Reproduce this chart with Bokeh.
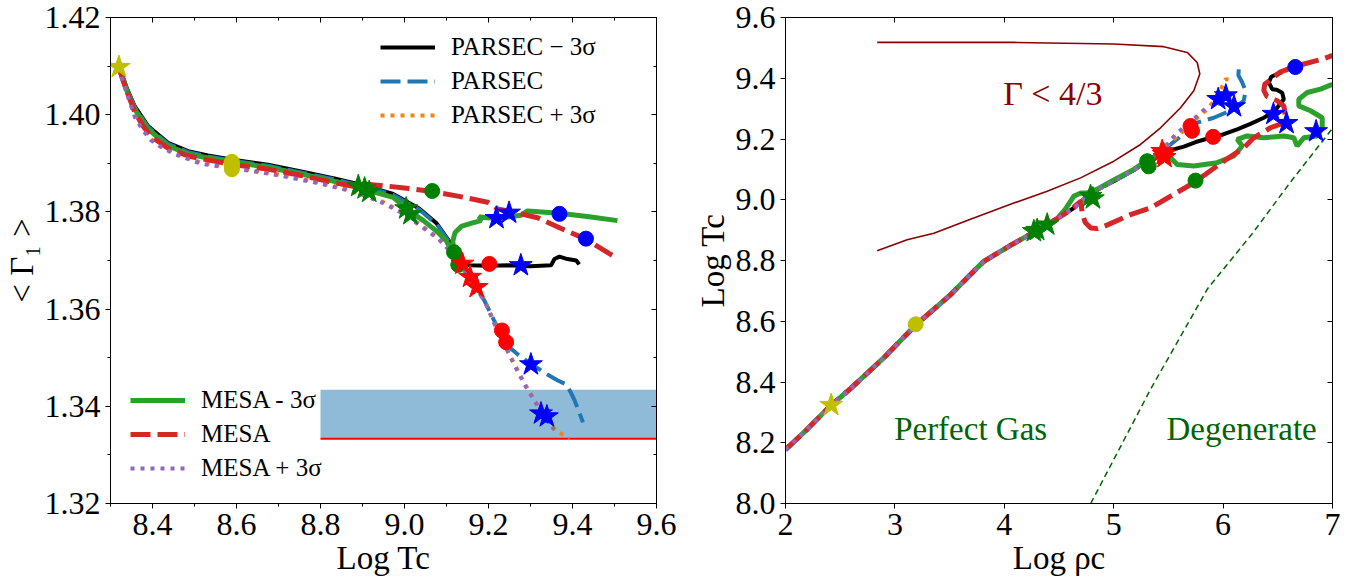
from bokeh.plotting import figure
from bokeh.models import (FixedTicker, LinearAxis, Label, Legend, LegendItem, CustomJSTickFormatter)
from bokeh.layouts import row
from bokeh.embed import file_html
from bokeh.resources import INLINE

SERIF = "Liberation Serif"
C_BLACK, C_BLUE, C_ORANGE = "black", "#1f77b4", "#ff7f0e"
C_GREEN, C_RED, C_PURPLE = "#2ca02c", "#d62728", "#9467bd"
M_Y, M_G, M_R, M_B = "#bfbf00", "#008000", "#ff0000", "#0000ff"

# ---------------- left panel data: <Gamma_1> vs Log Tc ----------------
lp_xticks = [8.4, 8.6, 8.8, 9.0, 9.2, 9.4, 9.6]
lp_xminor = [8.3, 8.4, 8.5, 8.6, 8.7, 8.8, 8.9, 9.0, 9.1, 9.2, 9.3, 9.4, 9.5, 9.6]
lp_yticks = [1.32, 1.34, 1.36, 1.38, 1.40, 1.42]
lp_yminor = [1.32, 1.33, 1.34, 1.35, 1.36, 1.37, 1.38, 1.39, 1.40, 1.41, 1.42]

pm3_T = [8.320, 8.326, 8.340, 8.358, 8.390, 8.437, 8.485, 8.532, 8.595, 8.675, 8.754, 8.833, 8.881, 8.930,
         8.973, 9.035, 9.077, 9.108, 9.128, 9.140, 9.154, 9.200, 9.250, 9.300, 9.349, 9.357, 9.369, 9.388,
         9.409, 9.416]
pm3_G = [1.4098, 1.4086, 1.4052, 1.4017, 1.3976, 1.3942, 1.3925, 1.3916, 1.3907, 1.3897, 1.3883, 1.3869,
         1.3859, 1.3848, 1.3837, 1.3807, 1.3776, 1.3738, 1.3715, 1.3697, 1.3690, 1.3689, 1.3690, 1.3688,
         1.3690, 1.3703, 1.3708, 1.3703, 1.3700, 1.3692]

p0_T = [8.320, 8.326, 8.340, 8.358, 8.390, 8.437, 8.485, 8.532, 8.595, 8.675, 8.754, 8.833, 8.881, 8.930,
        8.973, 9.035, 9.077, 9.108, 9.128, 9.140, 9.160, 9.190, 9.214, 9.245, 9.278, 9.301, 9.335, 9.365,
        9.385, 9.395, 9.405, 9.415, 9.425]
p0_G = [1.4098, 1.4085, 1.4050, 1.4015, 1.3974, 1.3940, 1.3923, 1.3914, 1.3905, 1.3895, 1.3881, 1.3867,
        1.3857, 1.3846, 1.3835, 1.3805, 1.3774, 1.3736, 1.3713, 1.3694, 1.3657, 1.3618, 1.3575, 1.3525,
        1.3501, 1.3488, 1.3468, 1.3453, 1.3445, 1.3430, 1.3412, 1.3390, 1.3367]

pp3_T = [8.320, 8.326, 8.338, 8.358, 8.378, 8.397, 8.421, 8.453, 8.516, 8.595, 8.683, 8.785, 8.849, 8.900,
         8.950, 9.000, 9.040, 9.080, 9.110, 9.135, 9.160, 9.190, 9.214, 9.254, 9.285, 9.309, 9.333, 9.361,
         9.381, 9.393]
pp3_G = [1.4098, 1.4080, 1.4048, 1.3998, 1.3969, 1.3949, 1.3935, 1.3921, 1.3901, 1.3891, 1.3880, 1.3863,
         1.3850, 1.3837, 1.3820, 1.3797, 1.3772, 1.3747, 1.3720, 1.3692, 1.3657, 1.3620, 1.3572, 1.3500,
         1.3448, 1.3414, 1.3380, 1.3349, 1.3340, 1.3333]

mm3_T = [8.320, 8.326, 8.340, 8.358, 8.390, 8.437, 8.485, 8.532, 8.595, 8.675, 8.754, 8.833, 8.890, 8.930,
         8.973, 9.010, 9.045, 9.077, 9.100, 9.115, 9.125, 9.118, 9.115, 9.120, 9.135, 9.160, 9.182, 9.178,
         9.195, 9.222, 9.277, 9.293, 9.369, 9.440, 9.507]
mm3_G = [1.4098, 1.4083, 1.4047, 1.4011, 1.3970, 1.3936, 1.3919, 1.3911, 1.3902, 1.3892, 1.3878, 1.3863,
         1.3851, 1.3840, 1.3830, 1.3803, 1.3782, 1.3760, 1.3740, 1.3715, 1.3693, 1.3715, 1.3740, 1.3757,
         1.3770, 1.3777, 1.3782, 1.3790, 1.3788, 1.3787, 1.3793, 1.3802, 1.3797, 1.3790, 1.3782]

m0_T = [8.320, 8.326, 8.338, 8.358, 8.378, 8.397, 8.437, 8.485, 8.532, 8.595, 8.675, 8.754, 8.833, 8.881,
        8.910, 8.960, 9.010, 9.066, 9.130, 9.198, 9.222, 9.277, 9.317, 9.373, 9.429, 9.488, 9.500]
m0_G = [1.4098, 1.4081, 1.4050, 1.4005, 1.3976, 1.3955, 1.3931, 1.3915, 1.3907, 1.3897, 1.3888, 1.3875,
        1.3860, 1.3852, 1.3857, 1.3853, 1.3848, 1.3842, 1.3832, 1.3820, 1.3806, 1.3796, 1.3788, 1.3766,
        1.3745, 1.3714, 1.3708]

mp3_T = [8.320, 8.326, 8.338, 8.358, 8.378, 8.397, 8.421, 8.453, 8.516, 8.595, 8.683, 8.785, 8.849, 8.900,
         8.950, 9.000, 9.040, 9.080, 9.110, 9.135, 9.160, 9.190, 9.214, 9.254, 9.285, 9.309, 9.333, 9.361]
mp3_G = [1.4098, 1.4078, 1.4046, 1.3995, 1.3967, 1.3947, 1.3933, 1.3919, 1.3899, 1.3889, 1.3878, 1.3861,
         1.3848, 1.3835, 1.3818, 1.3795, 1.3770, 1.3745, 1.3718, 1.3690, 1.3655, 1.3618, 1.3570, 1.3498,
         1.3446, 1.3412, 1.3378, 1.3347]

band_T = [8.8, 9.6]
band_G = [1.3334, 1.3434]
gamma_crit = [1.3333, 1.3333]

lp_ystar_T, lp_ystar_G = [8.320], [1.4098]
lp_ycirc_T, lp_ycirc_G = [8.589, 8.589, 8.589, 8.589], [1.3903, 1.3898, 1.3893, 1.3888]
lp_gstar_T, lp_gstar_G = [8.890, 8.905, 8.916, 9.004, 9.014], [1.3853, 1.3848, 1.3841, 1.3807, 1.3795]
lp_gcirc_T, lp_gcirc_G = [9.066, 9.118, 9.128], [1.3843, 1.3717, 1.3691]
lp_rstar_T, lp_rstar_G = [9.138, 9.156, 9.172], [1.3693, 1.3666, 1.3645]
lp_rcirc_T, lp_rcirc_G = [9.202, 9.232, 9.242], [1.3693, 1.3556, 1.3532]
lp_bstar_T = [9.219, 9.249, 9.277, 9.301, 9.325, 9.339]
lp_bstar_G = [1.3787, 1.3798, 1.3690, 1.3486, 1.3385, 1.3379]
lp_bcirc_T, lp_bcirc_G = [9.369, 9.432], [1.3796, 1.3745]

# ---------------- right panel data: Log Tc vs Log rho_c ----------------
rp_xticks = [2, 3, 4, 5, 6, 7]
rp_yticks = [8.0, 8.2, 8.4, 8.6, 8.8, 9.0, 9.2, 9.4, 9.6]

common_rho = [2.000, 2.200, 2.418, 2.594, 2.900, 3.188, 3.508, 3.721, 3.813, 4.057, 4.270, 4.484]
common_T = [8.177, 8.245, 8.324, 8.378, 8.480, 8.587, 8.687, 8.765, 8.797, 8.850, 8.893, 8.938]
mid_rho = [4.636, 4.758, 4.910, 5.001, 5.184, 5.306, 5.428]
mid_T = [8.973, 9.012, 9.045, 9.061, 9.098, 9.127, 9.155]

pm3_tail_rho = [5.458, 5.540, 5.641, 5.750, 5.885, 6.000, 6.129, 6.250, 6.372, 6.449, 6.494, 6.555, 6.540,
                6.490, 6.449, 6.418, 6.440, 6.494, 6.540]
pm3_tail_T = [9.160, 9.165, 9.175, 9.190, 9.204, 9.215, 9.232, 9.250, 9.270, 9.287, 9.303, 9.331, 9.352,
              9.362, 9.364, 9.386, 9.405, 9.414, 9.420]
p0_tail_rho = [5.460, 5.600, 5.763, 5.915, 6.067, 6.189, 6.205, 6.175, 6.140, 6.144, 6.170]
p0_tail_T = [9.165, 9.205, 9.254, 9.270, 9.293, 9.326, 9.359, 9.386, 9.410, 9.436, 9.445]
pp3_tail_rho = [5.460, 5.600, 5.763, 5.855, 5.950, 6.000, 6.020, 6.060, 6.083]
pp3_tail_T = [9.170, 9.215, 9.270, 9.298, 9.340, 9.380, 9.397, 9.395, 9.386]
mp3_tail_rho = [5.460, 5.565, 5.763, 5.855]
mp3_tail_T = [9.170, 9.215, 9.276, 9.306]
mm3_tail_rho = [4.560, 4.636, 4.700, 4.758, 4.850, 5.001, 5.184, 5.306, 5.430, 5.470, 5.520, 5.580, 5.732,
                5.946, 6.098, 6.175, 6.129, 6.220, 6.372, 6.555, 6.646, 6.677, 6.738, 6.860, 6.906, 6.906,
                6.799, 6.692, 6.692, 6.769, 6.890, 7.000]
mm3_tail_T = [8.970, 9.012, 9.022, 9.023, 9.035, 9.065, 9.100, 9.130, 9.150, 9.150, 9.138, 9.116, 9.111,
              9.122, 9.144, 9.177, 9.199, 9.210, 9.204, 9.210, 9.204, 9.177, 9.204, 9.210, 9.237, 9.270,
              9.293, 9.309, 9.331, 9.353, 9.364, 9.380]
m0_tail_rho = [4.600, 4.700, 4.712, 4.740, 4.790, 4.849, 4.910, 5.154, 5.336, 5.732, 6.006, 6.189, 6.280,
               6.433, 6.525, 6.570, 6.555, 6.494, 6.400, 6.372, 6.380, 6.433, 6.520, 6.653, 6.738, 6.906, 7.000]
m0_tail_T = [8.965, 8.995, 8.955, 8.925, 8.907, 8.905, 8.912, 8.951, 8.973, 9.056, 9.127, 9.171, 9.204,
             9.237, 9.249, 9.276, 9.309, 9.326, 9.340, 9.360, 9.380, 9.395, 9.420, 9.438, 9.447, 9.463, 9.475]

unstable_rho = [2.838, 4.087, 5.001, 5.458, 5.672, 5.763, 5.787, 5.732, 5.611, 5.428, 5.245, 5.001, 4.697,
                4.392, 4.087, 3.721, 3.356, 3.112, 2.838]
unstable_T = [9.518, 9.518, 9.513, 9.504, 9.485, 9.452, 9.414, 9.359, 9.303, 9.237, 9.182, 9.127, 9.072,
              9.028, 8.989, 8.940, 8.890, 8.868, 8.832]
degen_rho = [4.79, 5.34, 5.86, 6.27, 6.62, 7.00]
degen_T = [8.00, 8.378, 8.708, 8.89, 9.06, 9.235]

rp_ystar_r, rp_ystar_T = [2.418], [8.324]
rp_ycirc_r, rp_ycirc_T = [3.190], [8.590]
rp_gstar_r, rp_gstar_T = [4.270, 4.300, 4.392, 4.788, 4.810], [8.896, 8.900, 8.918, 9.012, 9.004]
rp_gcirc_r, rp_gcirc_T = [5.306, 5.320, 5.748], [9.127, 9.110, 9.063]
rp_rstar_r, rp_rstar_T = [5.443, 5.457, 5.465], [9.160, 9.150, 9.140]
rp_rcirc_r, rp_rcirc_T = [5.702, 5.716, 5.909], [9.243, 9.227, 9.207]
rp_bstar_r = [5.955, 6.025, 6.100, 6.460, 6.580, 6.850]
rp_bstar_T = [9.331, 9.343, 9.307, 9.282, 9.252, 9.225]
rp_bcirc_r, rp_bcirc_T = [6.660], [9.437]

# ---------------- helpers ----------------
def style_axis(ax, major, minor, inward, digits=None, title=None):
    ax.ticker = FixedTicker(ticks=major, minor_ticks=minor)
    ax.axis_line_color = "black"
    ax.axis_line_width = 1
    ax.major_tick_line_color = "black"
    ax.minor_tick_line_color = "black"
    if inward:
        ax.major_tick_in, ax.major_tick_out = 5, 0
        ax.minor_tick_in, ax.minor_tick_out = 3, 0
    else:
        ax.major_tick_in, ax.major_tick_out = 0, 5
        ax.minor_tick_in, ax.minor_tick_out = 0, 3
    if digits is not None:
        ax.formatter = CustomJSTickFormatter(code=f"return tick.toFixed({digits});")
        ax.major_label_text_font = SERIF
        ax.major_label_text_font_size = "32px"
        ax.major_label_text_color = "black"
        ax.major_label_standoff = 5
    else:
        ax.formatter = CustomJSTickFormatter(code="return '';")
        ax.major_label_text_font_size = "1px"
        ax.major_label_standoff = 0
    if title is not None:
        ax.axis_label = title
        ax.axis_label_text_font = SERIF
        ax.axis_label_text_font_size = "33px"
        ax.axis_label_text_font_style = "normal"
        ax.axis_label_text_color = "black"
        ax.axis_label_standoff = 2


def make_fig(width, xr, yr, bl, br):
    p = figure(width=width, height=580, x_range=xr, y_range=yr, output_backend="svg",
               toolbar_location=None, title=None,
               min_border_left=bl, min_border_right=br, min_border_top=17, min_border_bottom=77)
    p.xgrid.visible = False
    p.ygrid.visible = False
    p.outline_line_color = "black"
    p.outline_line_width = 1
    p.background_fill_color = "white"
    p.border_fill_color = "white"
    return p


def lab(p, x, y, text, size, color="black"):
    p.add_layout(Label(x=x, y=y, text=text, text_font=SERIF, text_font_size=f"{size}px",
                       text_color=color, text_align="left", text_baseline="alphabetic"))


def legend(items, loc):
    return Legend(items=items, location=loc, label_text_font=SERIF, label_text_font_size="25px",
                  label_text_color="black", glyph_width=55, glyph_height=30, label_height=30,
                  label_standoff=16, spacing=4, padding=0, margin=0, border_line_color=None,
                  background_fill_alpha=0)


DASH, DOT = "20 7", "4 6"
SS, CS = 24, 15

# ---------------- left figure ----------------
p1 = make_fig(676, (8.3, 9.6), (1.32, 1.42), 109, 20)
style_axis(p1.xaxis[0], lp_xticks, lp_xminor, False, digits=1, title="Log Tc")
style_axis(p1.yaxis[0], lp_yticks, lp_yminor, False, digits=2, title="< Γ₁ >")
ax_top = LinearAxis()
style_axis(ax_top, lp_xticks, lp_xminor, True)
p1.add_layout(ax_top, "above")
ax_right = LinearAxis()
style_axis(ax_right, lp_yticks, lp_yminor, True)
p1.add_layout(ax_right, "right")

p1.quad(left=band_T[0], right=band_T[1], bottom=band_G[0], top=band_G[1],
        fill_color=C_BLUE, fill_alpha=0.5, line_color=None)
p1.line(band_T, gamma_crit, line_color="red", line_width=2)

r_pm3 = p1.line(pm3_T, pm3_G, line_color=C_BLACK, line_width=4)
r_p0 = p1.line(p0_T, p0_G, line_color=C_BLUE, line_width=4, line_dash=DASH)
r_pp3 = p1.line(pp3_T, pp3_G, line_color=C_ORANGE, line_width=4, line_dash=DOT)
r_mm3 = p1.line(mm3_T, mm3_G, line_color=C_GREEN, line_width=5)
r_m0 = p1.line(m0_T, m0_G, line_color=C_RED, line_width=5, line_dash=DASH)
r_mp3 = p1.line(mp3_T, mp3_G, line_color=C_PURPLE, line_width=4, line_dash=DOT)

p1.scatter(lp_ystar_T, lp_ystar_G, marker="star", size=SS, color=M_Y)
p1.scatter(lp_ycirc_T, lp_ycirc_G, marker="circle", size=CS, color=M_Y)
p1.scatter(lp_gstar_T, lp_gstar_G, marker="star", size=SS, color=M_G)
p1.scatter(lp_gcirc_T, lp_gcirc_G, marker="circle", size=CS, color=M_G)
p1.scatter(lp_rstar_T, lp_rstar_G, marker="star", size=SS, color=M_R)
p1.scatter(lp_rcirc_T, lp_rcirc_G, marker="circle", size=CS, color=M_R)
p1.scatter(lp_bstar_T, lp_bstar_G, marker="star", size=SS, color=M_B)
p1.scatter(lp_bcirc_T, lp_bcirc_G, marker="circle", size=CS, color=M_B)

p1.add_layout(legend([LegendItem(label="PARSEC − 3σ", renderers=[r_pm3]),
                      LegendItem(label="PARSEC", renderers=[r_p0]),
                      LegendItem(label="PARSEC + 3σ", renderers=[r_pp3])], (270, 373)))
p1.add_layout(legend([LegendItem(label="MESA - 3σ", renderers=[r_mm3]),
                      LegendItem(label="MESA", renderers=[r_m0]),
                      LegendItem(label="MESA + 3σ", renderers=[r_mp3])], (20, 20)))

# ---------------- right figure ----------------
p2 = make_fig(684, (2, 7), (8.0, 9.6), 109, 28)
style_axis(p2.xaxis[0], rp_xticks, [], False, digits=0, title="Log ρc")
style_axis(p2.yaxis[0], rp_yticks, [], False, digits=1, title="Log Tc")
ax_top2 = LinearAxis()
style_axis(ax_top2, rp_xticks, [], True)
p2.add_layout(ax_top2, "above")
ax_right2 = LinearAxis()
style_axis(ax_right2, rp_yticks, [], True)
p2.add_layout(ax_right2, "right")

p2.line(unstable_rho, unstable_T, line_color="#8b0000", line_width=1.6)
p2.line(degen_rho, degen_T, line_color="#006400", line_width=1.5, line_dash="6 4")

p2.line(common_rho + mid_rho + pm3_tail_rho, common_T + mid_T + pm3_tail_T, line_color=C_BLACK, line_width=4)
p2.line(common_rho + mid_rho + p0_tail_rho, common_T + mid_T + p0_tail_T, line_color=C_BLUE, line_width=4,
        line_dash=DASH)
p2.line(common_rho + mid_rho + pp3_tail_rho, common_T + mid_T + pp3_tail_T, line_color=C_ORANGE,
        line_width=4, line_dash=DOT)
p2.line(common_rho + mm3_tail_rho, common_T + mm3_tail_T, line_color=C_GREEN, line_width=5)
p2.line(common_rho + m0_tail_rho, common_T + m0_tail_T, line_color=C_RED, line_width=5, line_dash=DASH)
p2.line(common_rho + mid_rho + mp3_tail_rho, common_T + mid_T + mp3_tail_T, line_color=C_PURPLE,
        line_width=4, line_dash=DOT)

p2.scatter(rp_ystar_r, rp_ystar_T, marker="star", size=SS, color=M_Y)
p2.scatter(rp_ycirc_r, rp_ycirc_T, marker="circle", size=CS, color=M_Y)
p2.scatter(rp_gstar_r, rp_gstar_T, marker="star", size=SS, color=M_G)
p2.scatter(rp_gcirc_r, rp_gcirc_T, marker="circle", size=CS, color=M_G)
p2.scatter(rp_rstar_r, rp_rstar_T, marker="star", size=SS, color=M_R)
p2.scatter(rp_rcirc_r, rp_rcirc_T, marker="circle", size=CS, color=M_R)
p2.scatter(rp_bstar_r, rp_bstar_T, marker="star", size=SS, color=M_B)
p2.scatter(rp_bcirc_r, rp_bcirc_T, marker="circle", size=CS, color=M_B)

lab(p2, 3.99, 9.349, "Γ < 4/3", 34, color="#8b0000")
lab(p2, 2.993, 8.246, "Perfect Gas", 33, color="#006400")
lab(p2, 5.483, 8.246, "Degenerate", 33, color="#006400")

layout = row(p1, p2)
open("out.html", "w").write(file_html(layout, INLINE))
